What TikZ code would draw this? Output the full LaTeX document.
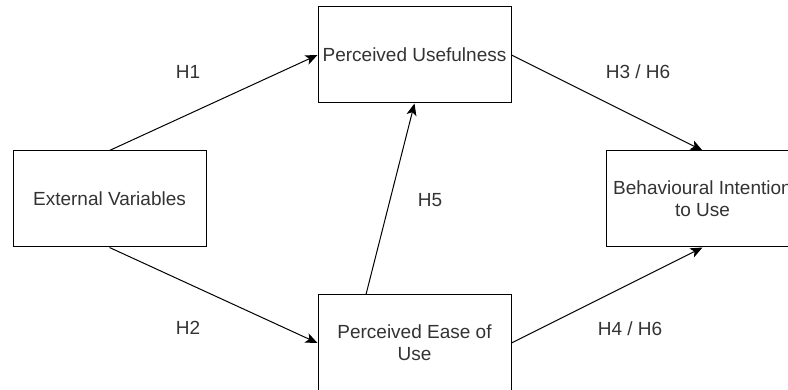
\documentclass[tikz,border=0pt]{standalone}
\usepackage{fontspec}
\setmainfont{Liberation Sans}
\usetikzlibrary{arrows.meta}
\definecolor{txt}{RGB}{51,51,51}
\tikzset{
  box/.style={draw=black, line width=1pt, fill=white, minimum width=193pt, minimum height=96pt, inner sep=0pt, align=center, text=txt, font=\fontsize{19}{22}\selectfont},
  lbl/.style={text=txt, inner sep=0pt, font=\fontsize{19}{22}\selectfont},
  conn/.style={draw=black, line width=1pt, -{Stealth[length=12pt,width=10pt,inset=3pt]}}
}
\begin{document}
\begin{tikzpicture}[x=1pt,y=-1pt]
\useasboundingbox (0,0) rectangle (788,390);
\fill[white] (0,0) rectangle (788,390);
\begin{scope}
\clip (0,0) rectangle (788,390);
\node[box] (ev) at (109.5,199) {External Variables};
\node[box] (pu) at (414.5,55) {Perceived Usefulness};
\node[box] (peu) at (414.5,343) {Perceived Ease of\\Use};
\node[box] (bi) at (702.5,199) {Behavioural Intention\\to Use};
\draw[conn] (ev.north) -- (pu.west);
\draw[conn] (ev.south) -- (peu.west);
\draw[conn] (pu.east) -- (bi.north);
\draw[conn] (peu.east) -- (bi.south);
\draw[conn] ([xshift=-48.5pt]peu.north) -- (pu.south);
\node[lbl] (h1) at (188,72) {H1};
\node[lbl] (h2) at (188,328) {H2};
\node[lbl] (h36) at (638,72) {H3 / H6};
\node[lbl] (h46) at (630,329) {H4 / H6};
\node[lbl] (h5) at (430,200) {H5};
\end{scope}
\end{tikzpicture}
\end{document}
